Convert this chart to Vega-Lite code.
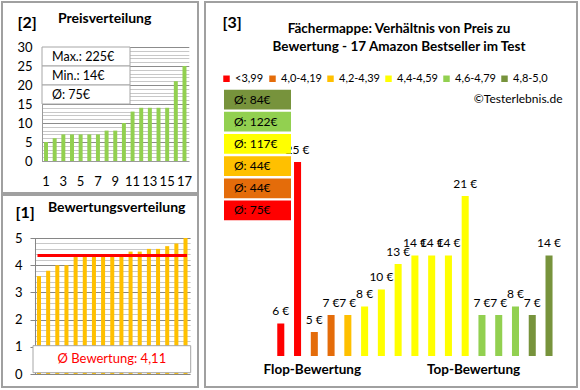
{
  "$schema": "https://vega.github.io/schema/vega-lite/v6.json",
  "padding": {"left": 1, "top": 1, "right": 0, "bottom": 0},
  "background": "white",
  "spacing": 5,
  "resolve": {"scale": {"color": "independent"}, "legend": {"color": "independent"}},
  "config": {
    "font": "Lato",
    "view": {"stroke": "#a0a0a0", "strokeWidth": 2},
    "axis": {"labelColor": "#000", "titleColor": "#000"},
    "title": {"color": "#000"}
  },
  "datasets": {
    "prices": [
      {"idx": 1, "price": 5}, {"idx": 2, "price": 6}, {"idx": 3, "price": 7}, {"idx": 4, "price": 7},
      {"idx": 5, "price": 7}, {"idx": 6, "price": 7}, {"idx": 7, "price": 7}, {"idx": 8, "price": 8},
      {"idx": 9, "price": 8}, {"idx": 10, "price": 10}, {"idx": 11, "price": 13}, {"idx": 12, "price": 14},
      {"idx": 13, "price": 14}, {"idx": 14, "price": 14}, {"idx": 15, "price": 14}, {"idx": 16, "price": 21},
      {"idx": 17, "price": 25}
    ],
    "pricebox": [
      {"k": "box", "row": 1, "text": "Max.: 225€"},
      {"k": "box", "row": 2, "text": "Min.: 14€"},
      {"k": "box", "row": 3, "text": "Ø: 75€"}
    ],
    "ratings": [
      {"idx": 1, "rating": 3.6}, {"idx": 2, "rating": 3.8}, {"idx": 3, "rating": 4.0}, {"idx": 4, "rating": 4.0},
      {"idx": 5, "rating": 4.3}, {"idx": 6, "rating": 4.4}, {"idx": 7, "rating": 4.4}, {"idx": 8, "rating": 4.4},
      {"idx": 9, "rating": 4.4}, {"idx": 10, "rating": 4.4}, {"idx": 11, "rating": 4.5}, {"idx": 12, "rating": 4.5},
      {"idx": 13, "rating": 4.6}, {"idx": 14, "rating": 4.6}, {"idx": 15, "rating": 4.7}, {"idx": 16, "rating": 4.8},
      {"idx": 17, "rating": 5.0}
    ],
    "avgline": [{"rating": 4.36}],
    "ratingbox": [{"k": "box", "text": "Ø Bewertung: 4,11"}],
    "products": [
      {"idx": 1, "price": 6, "label": "6 €", "group": "<3,99"},
      {"idx": 2, "price": 25, "label": "25 €", "group": "<3,99"},
      {"idx": 3, "price": 5, "label": "5 €", "group": "4,0-4,19"},
      {"idx": 4, "price": 7, "label": "7 €", "group": "4,0-4,19"},
      {"idx": 5, "price": 7, "label": "7 €", "group": "4,2-4,39"},
      {"idx": 6, "price": 8, "label": "8 €", "group": "4,4-4,59"},
      {"idx": 7, "price": 10, "label": "10 €", "group": "4,4-4,59"},
      {"idx": 8, "price": 13, "label": "13 €", "group": "4,4-4,59"},
      {"idx": 9, "price": 14, "label": "14 €", "group": "4,4-4,59"},
      {"idx": 10, "price": 14, "label": "14 €", "group": "4,4-4,59"},
      {"idx": 11, "price": 14, "label": "14 €", "group": "4,4-4,59"},
      {"idx": 12, "price": 21, "label": "21 €", "group": "4,4-4,59"},
      {"idx": 13, "price": 7, "label": "7 €", "group": "4,6-4,79"},
      {"idx": 14, "price": 7, "label": "7 €", "group": "4,6-4,79"},
      {"idx": 15, "price": 8, "label": "8 €", "group": "4,6-4,79"},
      {"idx": 16, "price": 7, "label": "7 €", "group": "4,8-5,0"},
      {"idx": 17, "price": 14, "label": "14 €", "group": "4,8-5,0"}
    ],
    "groupavg": [
      {"k": "box", "group": "4,8-5,0", "text": "Ø: 84€"},
      {"k": "box", "group": "4,6-4,79", "text": "Ø: 122€"},
      {"k": "box", "group": "4,4-4,59", "text": "Ø: 117€"},
      {"k": "box", "group": "4,2-4,39", "text": "Ø: 44€"},
      {"k": "box", "group": "4,0-4,19", "text": "Ø: 44€"},
      {"k": "box", "group": "<3,99", "text": "Ø: 75€"}
    ]
  },
  "hconcat": [
    {
      "spacing": 0,
      "vconcat": [
        {
          "width": 196,
          "height": 191,
          "title": {"text": "Preisverteilung", "anchor": "start", "frame": "group", "dx": 56, "offset": -35, "baseline": "alphabetic", "fontSize": 14, "fontWeight": "bold"},
          "layer": [
            {
              "data": {"name": "prices"},
              "mark": {"type": "bar", "color": "#92D050"},
              "encoding": {
                "x": {
                  "field": "idx", "type": "ordinal",
                  "scale": {"range": [39.7, 186.8], "paddingInner": 0.54, "paddingOuter": 0.27},
                  "axis": {
                    "orient": "bottom", "offset": -32, "values": [1, 3, 5, 7, 9, 11, 13, 15, 17],
                    "labelAngle": 0, "labelFontSize": 13, "labelBaseline": "middle", "labelPadding": 20,
                    "ticks": false, "grid": false, "domain": true, "domainColor": "#9a9a9a",
                    "title": "[2]", "titleX": 15, "titleY": -134, "titleAlign": "left", "titleBaseline": "alphabetic",
                    "titleFontSize": 16, "titleFontWeight": "bold"
                  }
                },
                "y": {
                  "field": "price", "type": "quantitative",
                  "scale": {"domain": [0, 30], "range": [159, 45], "nice": false},
                  "axis": {
                    "orient": "left", "offset": -40,
                    "values": [0,1,2,3,4,5,6,7,8,9,10,11,12,13,14,15,16,17,18,19,20,21,22,23,24,25,26,27,28,29,30],
                    "labelExpr": "datum.value % 5 === 0 ? datum.label : ''",
                    "labelOverlap": false,
                    "labelFontSize": 13, "labelPadding": 10, "ticks": false,
                    "domain": true, "domainColor": "#9a9a9a",
                    "grid": true,
                    "gridColor": {"condition": {"test": "datum.value % 5 === 0", "value": "#8c8c8c"}, "value": "#c8c8c8"},
                    "title": null
                  }
                }
              }
            },
            {
              "data": {"name": "pricebox"},
              "layer": [
                {
                  "mark": {"type": "rect", "fill": "white", "stroke": "#a6a6a6", "strokeWidth": 1},
                  "encoding": {
                    "x": {"field": "k", "type": "nominal", "scale": {"range": [40, 128], "paddingInner": 0, "paddingOuter": 0}, "axis": null},
                    "y": {"field": "row", "type": "ordinal", "scale": {"range": [45, 102], "paddingInner": 0, "paddingOuter": 0}, "axis": null}
                  }
                },
                {
                  "mark": {"type": "text", "align": "left", "baseline": "middle", "dx": 10, "fontSize": 12.5, "color": "#000"},
                  "encoding": {
                    "x": {"field": "k", "type": "nominal", "bandPosition": 0},
                    "y": {"field": "row", "type": "ordinal"},
                    "text": {"field": "text"}
                  }
                }
              ]
            }
          ],
          "resolve": {"scale": {"x": "independent", "y": "independent"}, "axis": {"x": "independent", "y": "independent"}}
        },
        {
          "width": 196,
          "height": 192,
          "title": {"text": "Bewertungsverteilung", "anchor": "start", "frame": "group", "dx": 46, "offset": -31, "baseline": "alphabetic", "fontSize": 14, "fontWeight": "bold"},
          "layer": [
            {
              "encoding": {
                "x": {
                  "field": "idx", "type": "ordinal",
                  "scale": {"range": [32.4, 188.1], "paddingInner": 0.56, "paddingOuter": 0.28},
                  "axis": {
                    "orient": "bottom", "labels": false, "ticks": false, "domain": false, "grid": false,
                    "title": "[1]", "titleX": 13, "titleY": -170, "titleAlign": "left", "titleBaseline": "alphabetic",
                    "titleFontSize": 16, "titleFontWeight": "bold"
                  }
                },
                "y": {
                  "field": "rating", "type": "quantitative",
                  "scale": {"domain": [0, 5], "range": [179, 43], "nice": false},
                  "axis": {
                    "orient": "left", "offset": -33,
                    "values": [0,0.2,0.4,0.6,0.8,1,1.2,1.4,1.6,1.8,2,2.2,2.4,2.6,2.8,3,3.2,3.4,3.6,3.8,4,4.2,4.4,4.6,4.8,5],
                    "format": ".0f",
                    "labelExpr": "abs(datum.value - round(datum.value)) < 0.001 ? datum.label : ''",
                    "labelOverlap": false,
                    "labelFontSize": 13, "labelPadding": 8,
                    "ticks": true, "tickSize": 5, "tickColor": "#868686",
                    "tickOpacity": {"condition": {"test": "abs(datum.value - round(datum.value)) < 0.001", "value": 1}, "value": 0},
                    "domain": true, "domainColor": "#868686",
                    "grid": true,
                    "gridColor": {"condition": {"test": "abs(datum.value - round(datum.value)) < 0.001", "value": "#868686"}, "value": "#c8c8c8"},
                    "title": null
                  }
                }
              },
              "layer": [
                {
                  "data": {"name": "ratings"},
                  "mark": {"type": "bar", "color": "#FFC000"}
                },
                {
                  "data": {"name": "avgline"},
                  "mark": {"type": "rule", "color": "#FF0000", "strokeWidth": 3, "strokeCap": "square"},
                  "encoding": {
                    "x": {"datum": 1, "type": "ordinal"},
                    "x2": {"datum": 17}
                  }
                }
              ]
            },
            {
              "data": {"name": "ratingbox"},
              "layer": [
                {
                  "mark": {"type": "rect", "fill": "white", "stroke": "#a6a6a6", "strokeWidth": 1},
                  "encoding": {
                    "x": {"field": "k", "type": "nominal", "scale": {"range": [31, 188.7], "paddingInner": 0, "paddingOuter": 0}, "axis": null},
                    "y": {"field": "k", "type": "nominal", "scale": {"range": [150.7, 177.7], "paddingInner": 0, "paddingOuter": 0}, "axis": null}
                  }
                },
                {
                  "mark": {"type": "text", "align": "center", "baseline": "middle", "fontSize": 13, "color": "#FF0000"},
                  "encoding": {
                    "x": {"field": "k", "type": "nominal"},
                    "y": {"field": "k", "type": "nominal"},
                    "text": {"field": "text"}
                  }
                }
              ]
            }
          ],
          "resolve": {"scale": {"x": "independent", "y": "independent"}, "axis": {"x": "independent", "y": "independent"}}
        }
      ]
    },
    {
      "width": 372,
      "height": 385,
      "title": {
        "text": ["Fächermappe: Verhältnis von Preis zu", "Bewertung - 17 Amazon Bestseller im Test"],
        "anchor": "middle", "frame": "group", "dx": 8, "offset": -62, "baseline": "alphabetic",
        "lineHeight": 17.5, "fontSize": 13.5, "fontWeight": "bold"
      },
      "layer": [
        {
          "data": {"name": "products"},
          "layer": [
            {
              "mark": {"type": "bar"},
              "encoding": {
                "x": {
                  "field": "idx", "type": "ordinal",
                  "scale": {"range": [67.4, 352.4], "paddingInner": 0.58, "paddingOuter": 0.29},
                  "axis": {
                    "orient": "bottom", "offset": -31, "values": [3, 12],
                    "labelExpr": "datum.value == 3 ? 'Flop-Bewertung' : 'Top-Bewertung'",
                    "labelOffset": {"condition": {"test": "datum.value == 3", "value": -2}, "value": 8.4},
                    "labelAngle": 0, "labelFontSize": 13.5, "labelFontWeight": "bold", "labelBaseline": "top", "labelPadding": 6,
                    "ticks": false, "domain": false, "grid": false,
                    "title": "[3]", "titleX": 17, "titleY": -329, "titleAlign": "left", "titleBaseline": "alphabetic",
                    "titleFontSize": 16, "titleFontWeight": "bold"
                  }
                },
                "y": {
                  "field": "price", "type": "quantitative",
                  "scale": {"domain": [2.176, 25], "range": [354, 160], "nice": false, "zero": false, "clamp": true},
                  "axis": {
                    "orient": "right", "labels": false, "ticks": false, "domain": false, "grid": false,
                    "title": "©Testerlebnis.de", "titleAngle": 0, "titleAlign": "right", "titleBaseline": "middle",
                    "titleX": -15, "titleY": 96, "titleFontSize": 12, "titleFontWeight": "normal"
                  }
                },
                "y2": {"datum": 0},
                "color": {
                  "field": "group", "type": "nominal",
                  "scale": {
                    "domain": ["<3,99", "4,0-4,19", "4,2-4,39", "4,4-4,59", "4,6-4,79", "4,8-5,0"],
                    "range": ["#FF0000", "#E46C0A", "#FFC000", "#FFFF00", "#92D050", "#77933C"]
                  },
                  "legend": {
                    "orient": "none", "legendX": 16, "legendY": 71, "direction": "horizontal", "title": null,
                    "symbolType": "square", "symbolSize": 42, "symbolStrokeWidth": 0, "labelFontSize": 11,
                    "labelOffset": 3, "columnPadding": 3, "padding": 0, "labelColor": "#000"
                  }
                }
              }
            },
            {
              "mark": {"type": "text", "baseline": "alphabetic", "dy": -8, "fontSize": 12, "color": "#000"},
              "encoding": {
                "x": {"field": "idx", "type": "ordinal"},
                "y": {"field": "price", "type": "quantitative"},
                "text": {"field": "label"}
              }
            }
          ]
        },
        {
          "data": {"name": "groupavg"},
          "layer": [
            {
              "mark": {"type": "rect"},
              "encoding": {
                "x": {"field": "k", "type": "nominal", "scale": {"range": [19, 86], "paddingInner": 0, "paddingOuter": 0}, "axis": null},
                "y": {
                  "field": "group", "type": "ordinal",
                  "scale": {"domain": ["4,8-5,0", "4,6-4,79", "4,4-4,59", "4,2-4,39", "4,0-4,19", "<3,99"], "range": [87.7, 218.3], "paddingInner": 0.11, "paddingOuter": 0},
                  "axis": null
                },
                "color": {"field": "group", "type": "nominal"}
              }
            },
            {
              "mark": {"type": "text", "align": "left", "baseline": "middle", "dx": 10, "fontSize": 12, "color": "#000"},
              "encoding": {
                "x": {"field": "k", "type": "nominal", "bandPosition": 0},
                "y": {"field": "group", "type": "ordinal"},
                "text": {"field": "text"}
              }
            }
          ]
        }
      ],
      "resolve": {"scale": {"x": "independent", "y": "independent"}, "axis": {"x": "independent", "y": "independent"}}
    }
  ]
}
